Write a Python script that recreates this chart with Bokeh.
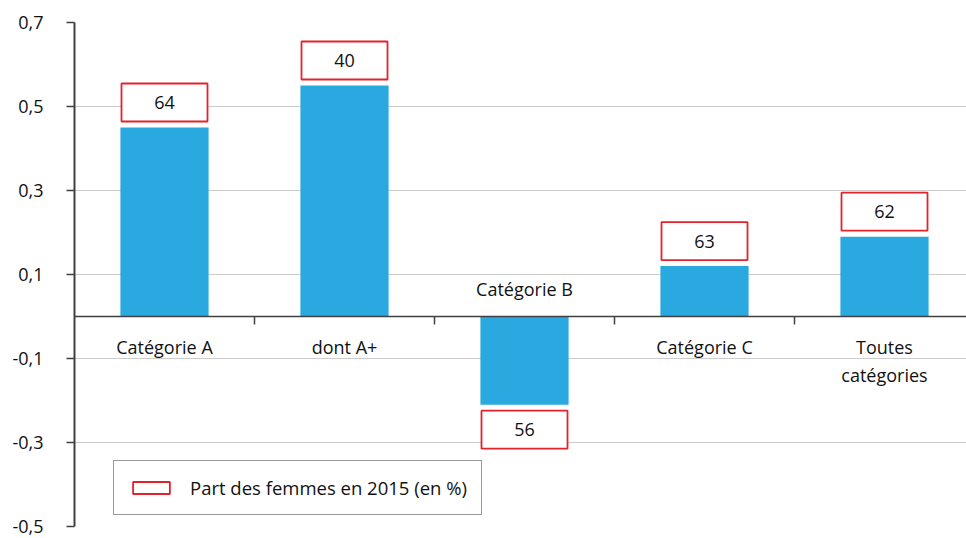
from bokeh.plotting import figure
from bokeh.models import (ColumnDataSource, Range1d, FixedTicker, CustomJSTickFormatter,
                          Span, Legend, LegendItem)
from bokeh.core.properties import value
from bokeh.embed import file_html
from bokeh.resources import INLINE

# ---- data ----
categories = ["Catégorie A", "dont A+", "Catégorie B", "Catégorie C", "Toutes\ncatégories"]
values = [0.45, 0.55, -0.21, 0.12, 0.19]
women_share = [64, 40, 56, 63, 62]
y_ticks = [-0.5, -0.3, -0.1, 0.1, 0.3, 0.5, 0.7]
legend_label = "Part des femmes en 2015 (en %)"

# ---- styling constants ----
FONT = "Open Sans"
FS = "18px"
BAR_COLOR = "#29a9e0"
BOX_RED = "#e3232b"
AXIS_COLOR = "#404040"
GRID_COLOR = "#cccccc"

Y0, Y1 = -0.5, 0.7
FRAME_H = 504
PPU = FRAME_H / (Y1 - Y0)          # pixels per data unit (vertical)
CAT_PX = 180                       # pixels per category
FRAME_W = 892

xs = list(range(len(categories)))
sign = [1 if v >= 0 else -1 for v in values]
box_y = [v + s * 25 / PPU for v, s in zip(values, sign)]
lab_off = [18 if s > 0 else -40 for s in sign]

src = ColumnDataSource(dict(x=xs, top=values, box_y=box_y,
                            share=[str(s) for s in women_share],
                            cat=categories, lab_off=lab_off,
                            zero=[0] * len(xs)))

p = figure(width=966, height=538, output_backend="svg", toolbar_location=None,
           x_range=Range1d(-0.5, -0.5 + FRAME_W / CAT_PX), y_range=Range1d(Y0, Y1),
           x_axis_location=None, min_border_left=74, min_border_top=22,
           min_border_bottom=538 - 22 - FRAME_H, min_border_right=0)
p.outline_line_color = None
p.xgrid.visible = False
p.ygrid.ticker = FixedTicker(ticks=y_ticks)
p.ygrid.grid_line_color = GRID_COLOR
p.ygrid.grid_line_width = 1

yax = p.yaxis[0]
yax.ticker = FixedTicker(ticks=y_ticks)
yax.formatter = CustomJSTickFormatter(code="return tick.toFixed(1).replace('.', ',');")
yax.axis_line_color = AXIS_COLOR
yax.axis_line_width = 2
yax.major_tick_line_color = AXIS_COLOR
yax.major_tick_line_width = 1.5
yax.major_tick_out = 8
yax.major_tick_in = 0
yax.minor_tick_line_color = None
yax.major_label_standoff = 23
yax.major_label_text_font = FONT
yax.major_label_text_font_size = FS
yax.major_label_text_color = "#111111"

# bars
p.vbar(x="x", top="top", bottom=0, width=0.49, source=src,
       fill_color=BAR_COLOR, line_color=None)

# zero axis line and category boundary ticks
p.add_layout(Span(location=0, dimension="width", line_color=AXIS_COLOR, line_width=1.5))
bounds = [i + 0.5 for i in xs[:-1]]
p.segment(x0=bounds, x1=bounds, y0=[0] * len(bounds), y1=[-8 / PPU] * len(bounds),
          line_color=AXIS_COLOR, line_width=1.5)

# label boxes
box = p.rect(x="x", y="box_y", width=86, height=38, width_units="screen",
             height_units="screen", source=src, fill_color="white",
             line_color=BOX_RED, line_width=1.8)
p.text(x="x", y="box_y", text="share", source=src, text_align="center",
       text_baseline="middle", text_font=value(FONT), text_font_size=FS,
       text_color="#111111")

# category labels
p.text(x="x", y="zero", text="cat", y_offset="lab_off", source=src,
       text_align="center", text_baseline="top", text_font=value(FONT),
       text_font_size=FS, text_color="#111111", text_line_height=1.2)

legend = Legend(items=[LegendItem(label=legend_label, renderers=[box])],
                location=(39, 11), border_line_color="#333333", border_line_width=1.5,
                padding=14, margin=0, glyph_width=46, glyph_height=15,
                label_standoff=16, label_text_font=FONT, label_text_font_size="18.5px",
                label_text_color="#111111", background_fill_color="white",
                background_fill_alpha=1)
p.add_layout(legend)

open("out.html", "w").write(file_html(p, INLINE))
